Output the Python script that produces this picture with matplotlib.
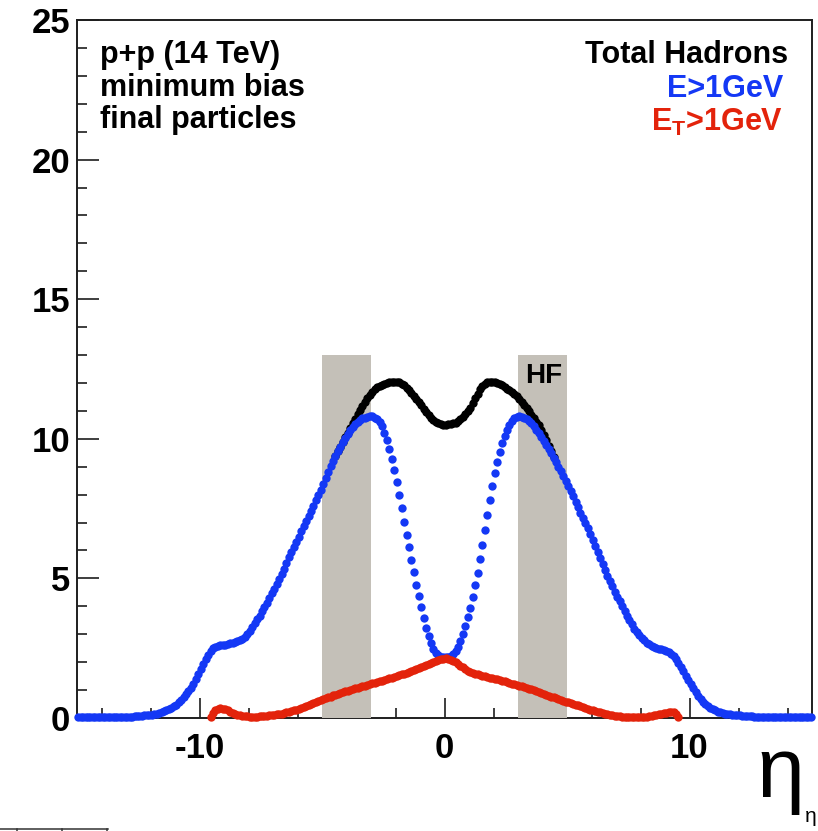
import numpy as np
import matplotlib
matplotlib.use("Agg")
import matplotlib.pyplot as plt
from matplotlib.lines import Line2D

plt.rcParams['font.family'] = ['Liberation Sans', 'DejaVu Sans']
plt.rcParams['mathtext.fontset'] = 'custom'
plt.rcParams['mathtext.rm'] = 'Liberation Sans:bold'
plt.rcParams['mathtext.it'] = 'Liberation Sans:bold'
plt.rcParams['mathtext.bf'] = 'Liberation Sans:bold'

# ---------------- data (eta histogram, bin width 0.1) ----------------
eta_min, eta_max = -15.0, 15.0

# E > 1 GeV (blue), 300 bins from -15 to 15
e_gt1_left = [
    0.03, 0.03, 0.03, 0.03, 0.03, 0.03, 0.03, 0.03, 0.03, 0.03,
    0.03, 0.03, 0.03, 0.03, 0.03, 0.03, 0.03, 0.03, 0.03, 0.03,
    0.04, 0.05, 0.05, 0.06, 0.06, 0.07, 0.08, 0.09, 0.10, 0.11,
    0.12, 0.14, 0.16, 0.18, 0.21, 0.24, 0.28, 0.32, 0.37, 0.42,
    0.48, 0.56, 0.65, 0.76, 0.87, 0.98, 1.09, 1.22, 1.40, 1.58,
    1.77, 1.95, 2.12, 2.27, 2.40, 2.50, 2.55, 2.58, 2.60, 2.62,
    2.63, 2.65, 2.67, 2.69, 2.71, 2.74, 2.78, 2.84, 2.91, 3.00,
    3.12, 3.25, 3.39, 3.53, 3.67, 3.82, 3.97, 4.12, 4.29, 4.46,
    4.63, 4.80, 4.97, 5.14, 5.34, 5.55, 5.77, 5.95, 6.13, 6.31,
    6.50, 6.68, 6.86, 7.04, 7.22, 7.41, 7.60, 7.80, 7.99, 8.18,
    8.38, 8.58, 8.80, 9.01, 9.19, 9.37, 9.55, 9.72, 9.88, 10.03,
    10.17, 10.30, 10.42, 10.53, 10.61, 10.68, 10.73, 10.76, 10.79, 10.80,
    10.80, 10.76, 10.70, 10.60, 10.45, 10.22, 9.95, 9.63, 9.27, 8.88,
    8.45, 8.00, 7.52, 7.03, 6.56, 6.11, 5.66, 5.22, 4.78, 4.36,
    3.96, 3.58, 3.23, 2.93, 2.67, 2.47, 2.33, 2.24, 2.19, 2.17,
]
e_gt1_right = [
    2.17, 2.18, 2.22, 2.29, 2.40, 2.56, 2.76, 3.00, 3.28, 3.60,
    3.95, 4.33, 4.75, 5.20, 5.68, 6.19, 6.72, 7.26, 7.80, 8.30,
    8.76, 9.17, 9.53, 9.84, 10.10, 10.32, 10.50, 10.64, 10.73, 10.78,
    10.80, 10.79, 10.76, 10.71, 10.65, 10.56, 10.45, 10.33, 10.20, 10.07,
    9.93, 9.79, 9.64, 9.49, 9.33, 9.17, 9.00, 8.83, 8.66, 8.49,
    8.31, 8.13, 7.94, 7.74, 7.54, 7.35, 7.16, 6.98, 6.79, 6.60,
    6.38, 6.16, 5.94, 5.72, 5.50, 5.29, 5.08, 4.89, 4.71, 4.53,
    4.35, 4.18, 4.00, 3.83, 3.66, 3.50, 3.35, 3.20, 3.07, 2.96,
    2.87, 2.78, 2.70, 2.64, 2.59, 2.55, 2.51, 2.48, 2.46, 2.43,
    2.40, 2.36, 2.30, 2.21, 2.10, 1.97, 1.83, 1.68, 1.52, 1.36,
    1.20, 1.06, 0.93, 0.80, 0.68, 0.58, 0.49, 0.42, 0.36, 0.31,
    0.27, 0.23, 0.20, 0.18, 0.16, 0.14, 0.13, 0.12, 0.11, 0.10,
    0.09, 0.08, 0.07, 0.07, 0.06, 0.06, 0.05, 0.05, 0.04, 0.04,
    0.03, 0.03, 0.03, 0.03, 0.03, 0.03, 0.03, 0.03, 0.03, 0.03,
    0.03, 0.03, 0.03, 0.03, 0.03, 0.03, 0.03, 0.03, 0.03, 0.03,
]

# Total hadrons (black), bins from -4.5 to 4.5 (elsewhere identical to blue)
total_range = (-4.5, 4.5)
total_had = [
    9.37, 9.55, 9.72, 9.88, 10.05, 10.21, 10.38, 10.55, 10.72, 10.88,
    11.03, 11.17, 11.31, 11.45, 11.58, 11.68, 11.77, 11.85, 11.89, 11.93,
    11.97, 12.00, 12.02, 12.04, 12.05, 12.05, 12.02, 11.97, 11.91, 11.83,
    11.74, 11.64, 11.53, 11.42, 11.31, 11.20, 11.08, 10.96, 10.85, 10.75,
    10.67, 10.60, 10.55, 10.52, 10.51, 10.51, 10.52, 10.53, 10.55, 10.58,
    10.63, 10.70, 10.79, 10.89, 11.00, 11.12, 11.28, 11.45, 11.62, 11.78,
    11.90, 11.98, 12.03, 12.05, 12.05, 12.03, 12.00, 11.96, 11.91, 11.86,
    11.80, 11.74, 11.68, 11.62, 11.53, 11.43, 11.32, 11.21, 11.10, 10.98,
    10.86, 10.74, 10.61, 10.48, 10.32, 10.15, 9.96, 9.76, 9.55, 9.35,
]

# E_T > 1 GeV (red), bins from -9.6 to 9.6
et_range = (-9.6, 9.6)
et_gt1 = [
    0.02, 0.18, 0.29, 0.34, 0.35, 0.34, 0.31, 0.27, 0.23, 0.19,
    0.15, 0.12, 0.10, 0.08, 0.07, 0.06, 0.05, 0.05, 0.05, 0.05,
    0.06, 0.06, 0.07, 0.08, 0.09, 0.10, 0.11, 0.13, 0.14, 0.16,
    0.18, 0.20, 0.22, 0.24, 0.27, 0.30, 0.33, 0.36, 0.39, 0.42,
    0.46, 0.49, 0.53, 0.56, 0.60, 0.63, 0.67, 0.70, 0.74, 0.77,
    0.81, 0.84, 0.87, 0.90, 0.92, 0.95, 0.97, 1.00, 1.03, 1.06,
    1.08, 1.11, 1.13, 1.16, 1.18, 1.21, 1.24, 1.26, 1.29, 1.31,
    1.34, 1.37, 1.39, 1.42, 1.45, 1.47, 1.50, 1.53, 1.56, 1.59,
    1.62, 1.66, 1.69, 1.73, 1.77, 1.80, 1.84, 1.88, 1.91, 1.95,
    1.98, 2.02, 2.05, 2.08, 2.11, 2.13,
    2.14, 2.13, 2.09, 2.04, 1.99, 1.93, 1.87, 1.81, 1.75, 1.69,
    1.65, 1.61, 1.58, 1.56, 1.54, 1.52, 1.50, 1.47, 1.45, 1.43,
    1.41, 1.38, 1.36, 1.33, 1.31, 1.28, 1.26, 1.23, 1.21, 1.18,
    1.16, 1.13, 1.11, 1.08, 1.05, 1.03, 1.00, 0.97, 0.93, 0.90,
    0.87, 0.84, 0.80, 0.77, 0.74, 0.71, 0.68, 0.65, 0.62, 0.59,
    0.57, 0.54, 0.51, 0.48, 0.45, 0.42, 0.39, 0.36, 0.33, 0.30,
    0.28, 0.25, 0.22, 0.20, 0.17, 0.15, 0.13, 0.11, 0.09, 0.08,
    0.07, 0.06, 0.05, 0.04, 0.03, 0.03, 0.02, 0.02, 0.03, 0.03,
    0.04, 0.04, 0.05, 0.06, 0.07, 0.09, 0.11, 0.13, 0.15, 0.17,
    0.19, 0.22, 0.23, 0.20, 0.14, 0.02,
]

# HF acceptance bands (eta ranges) and height
hf_bands = [(-5.0, -3.0), (3.0, 5.0)]
hf_height = 13.0

x_major = [-10, 0, 10]
x_minor = [-14, -12, -8, -6, -4, -2, 2, 4, 6, 8, 12, 14]
y_major = [0, 5, 10, 15, 20, 25]
y_minor = list(range(0, 26))

labels_left = ["p+p (14 TeV)", "minimum bias", "final particles"]
labels_right = ["Total Hadrons", "E>1GeV", "E$_{\\mathrm{T}}$>1GeV"]

# ---------------- plotting ----------------
W, H = 818, 831
BLUE = '#1438f5'
RED = '#e3230b'
BAND = '#c4c0b8'
DARK = '#1e1e1e'


def centers(lo, hi, n):
    edges = np.linspace(lo, hi, n + 1)
    return 0.5 * (edges[:-1] + edges[1:])


blue_vals = np.array(e_gt1_left + e_gt1_right)
eta_blue = centers(eta_min, eta_max, len(blue_vals))
eta_tot = centers(total_range[0], total_range[1], len(total_had))
eta_red = centers(et_range[0], et_range[1], len(et_gt1))

fig = plt.figure(figsize=(W / 100, H / 100), dpi=100)
ax = fig.add_axes([77 / W, 1 - 718 / H, (812 - 77) / W, (718 - 20) / H])
ax.set_xlim(eta_min, eta_max)
ax.set_ylim(0, 25)

for lo, hi in hf_bands:
    ax.fill_between([lo, hi], 0, hf_height, color=BAND, lw=0, zorder=3)
ax.text(3.3, 12.0, "HF", fontsize=20, fontweight='bold', color='black',
        va='baseline', ha='left', zorder=6)

ms = 6.0
ax.plot(eta_tot, total_had, 'o', color='black', ms=ms, mew=0, zorder=4, clip_on=False)
ax.plot(eta_blue, blue_vals, 'o', color=BLUE, ms=ms, mew=0, zorder=5, clip_on=False)
ax.plot(eta_red, et_gt1, 'o', color=RED, ms=ms, mew=0, zorder=6, clip_on=False)

ax.set_xticks(x_major)
ax.set_xticks(x_minor, minor=True)
ax.set_yticks(y_major)
ax.set_yticks(y_minor, minor=True)
ax.set_xticklabels([str(v) for v in x_major])
ax.set_yticklabels([str(v) for v in y_major])

ax.tick_params(axis='x', which='major', direction='in', length=14.5, width=1.2,
               color=DARK, pad=10, labelsize=25)
ax.tick_params(axis='x', which='minor', direction='in', length=7.2, width=1.2, color=DARK)
ax.tick_params(axis='y', which='major', direction='in', length=15.8, width=1.2,
               color=DARK, pad=5, labelsize=25)
ax.tick_params(axis='y', which='minor', direction='in', length=7.2, width=1.2, color=DARK)
for lab in ax.get_xticklabels() + ax.get_yticklabels():
    lab.set_fontweight('bold')
for sp in ax.spines.values():
    sp.set_linewidth(1.4)
    sp.set_color(DARK)

# texts
left_base = [63, 96, 128]
for s, yb in zip(labels_left, left_base):
    fig.text(100 / W, 1 - yb / H, s, fontsize=22, fontweight='bold',
             ha='left', va='baseline', color='black')

right_cfg = [(labels_right[0], 788, 63, 'black'),
             (labels_right[1], 783, 97, BLUE),
             (labels_right[2], 783, 131, RED)]
for s, xr, yb, c in right_cfg:
    fig.text(xr / W, 1 - yb / H, s, fontsize=22, fontweight='bold',
             ha='right', va='baseline', color=c)

# axis title (eta)
fig.text(757 / W, 1 - 797 / H, "η", fontsize=62, ha='left', va='baseline', color='black')
fig.text(805 / W, 1 - 822 / H, "η", fontsize=15, ha='left', va='baseline', color='black')

# fragment of a frame at bottom-left edge
fig.add_artist(Line2D([0, 108 / W], [1 - 829 / H, 1 - 829 / H], color='#333333', lw=1.1))
for xv in [17, 62, 107]:
    fig.add_artist(Line2D([xv / W, xv / W], [1 - 829 / H, 0], color='#333333', lw=1.1))

fig.savefig('out.png', dpi=100)
